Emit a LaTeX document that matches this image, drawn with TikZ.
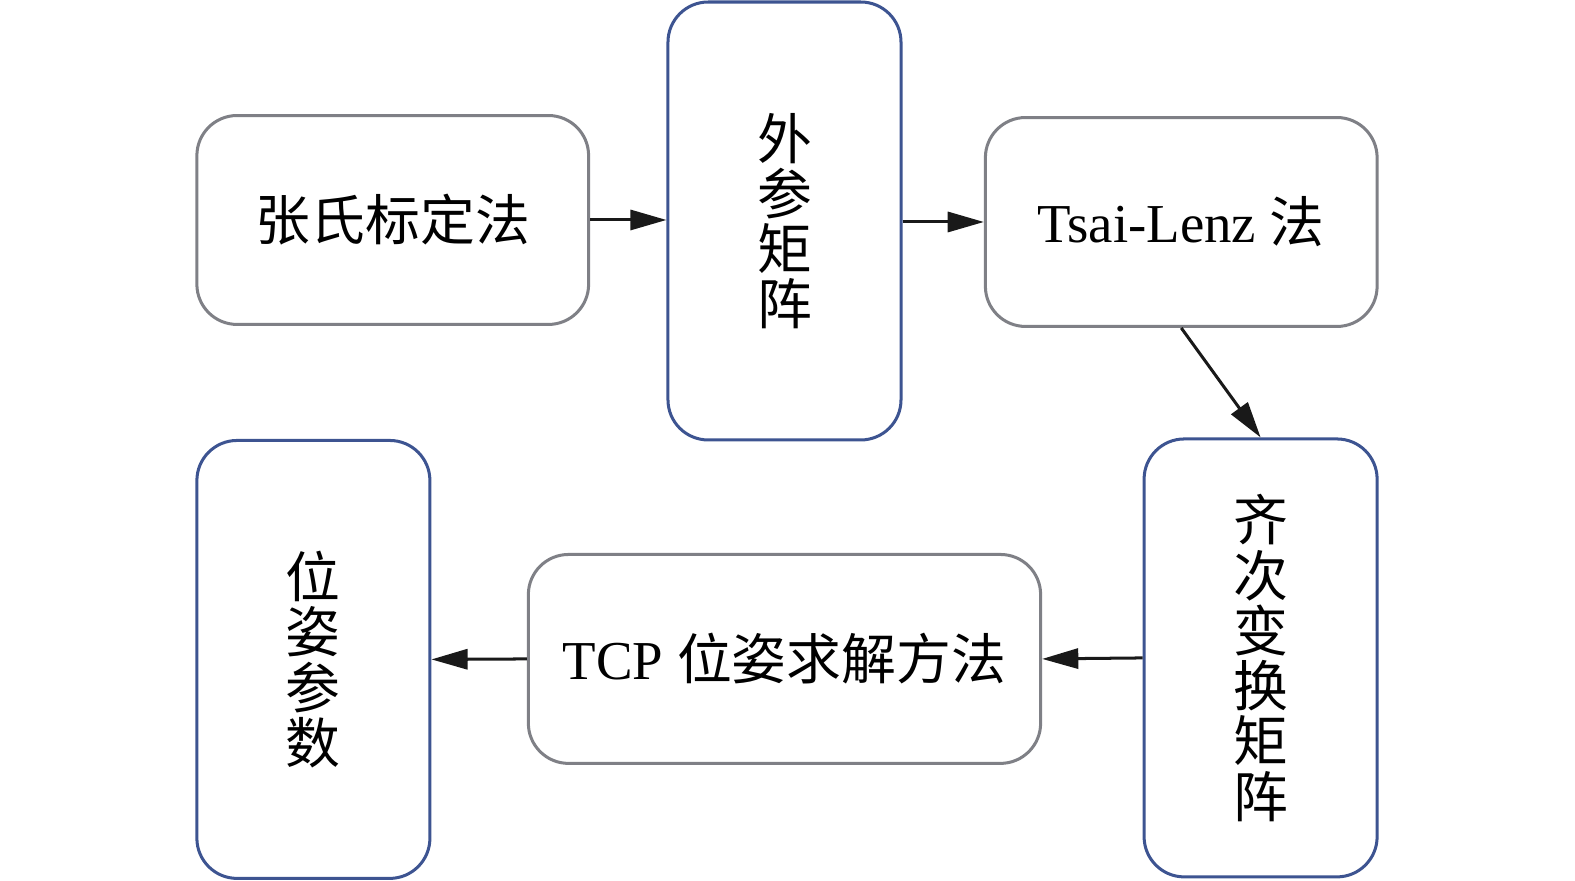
\documentclass[tikz,border=0pt]{standalone}
\usepackage{fontspec}
\setmainfont{Liberation Serif}
\newfontfamily\cjk{Noto Sans CJK SC}
\usetikzlibrary{arrows.meta}
\definecolor{graybox}{HTML}{7F8086}
\definecolor{bluebox}{HTML}{3D5491}
\begin{document}
\begin{tikzpicture}[x=0.5pt,y=-0.5pt,
  boxbase/.style={draw,rounded corners=20pt,line width=1.5pt,fill=white,inner sep=0pt,align=center,font=\fontsize{27.3pt}{27.5pt}\selectfont},
  wide/.style={boxbase,draw=graybox,minimum width=195pt,minimum height=104pt},
  tall/.style={boxbase,draw=bluebox,minimum width=116pt,minimum height=218pt,font=\fontsize{27.3pt}{27.5pt}\selectfont\cjk},
  flow/.style={line width=1.5pt,black!90,-{Triangle[length=18pt,width=10pt]}}]
\useasboundingbox (0,0) rectangle (1568,877);
\node[wide] (zhang) at (391,219) {\cjk 张氏标定法};
\node[tall] (waican) at (781,220) {外\\参\\矩\\阵};
\node[wide] (tsai) at (1176,221) {Tsai-Lenz {\cjk 法}};
\node[tall] (qici) at (1255,655) {齐\\次\\变\\换\\矩\\阵};
\node[wide,minimum width=255pt] (tcp) at (781,656) {TCP {\cjk 位姿求解方法}};
\node[tall] (weizi) at (312,656.5) {位\\姿\\参\\数};
\draw[flow] (zhang.east) -- (waican.west |- zhang.east);
\draw[flow] (waican.east |- tsai.west) -- (tsai.west);
\draw[flow] (tsai.south) -- (qici.north);
\draw[flow] (qici.west) -- (tcp.east);
\draw[flow] (tcp.west) -- (weizi.east);
\end{tikzpicture}
\end{document}
